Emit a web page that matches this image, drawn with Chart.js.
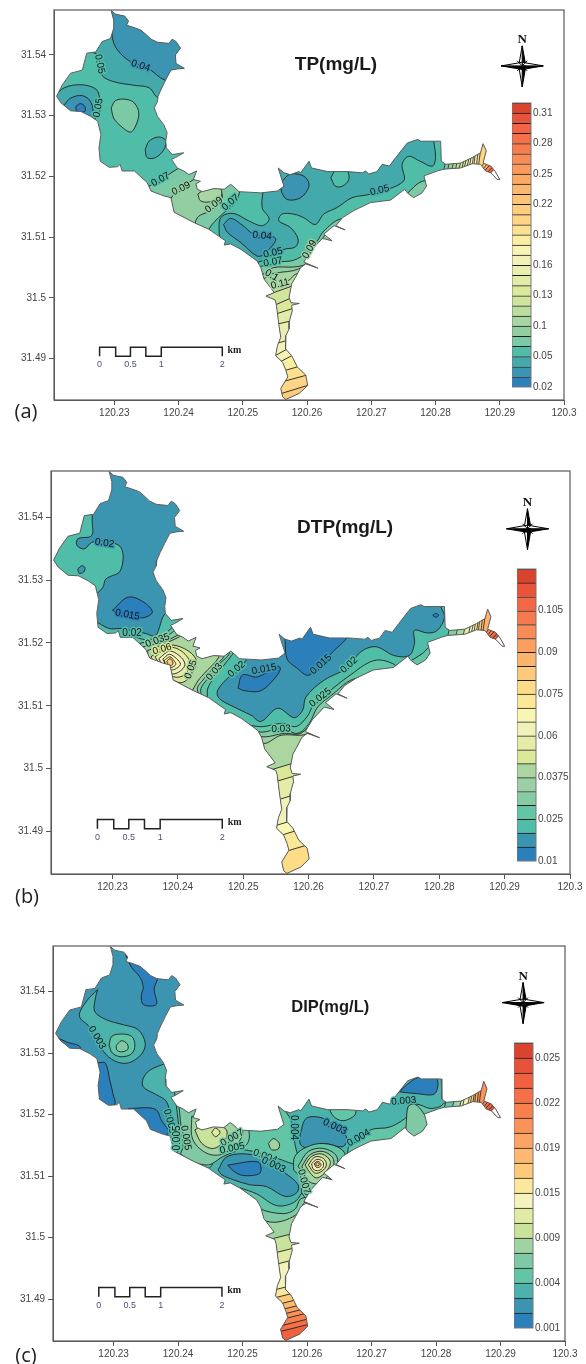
<!DOCTYPE html>
<html>
<head>
<meta charset="utf-8">
<title>TP, DTP and DIP contour maps</title>
<script src="https://cdn.jsdelivr.net/npm/chart.js@4"></script>
<style>
    html, body { margin: 0; padding: 0; background: #fff; width: 586px; height: 1364px; overflow: hidden; }
    canvas { position: absolute; left: 0; top: 0; }
    .letter { position: absolute; font: 20px "Open Sans", sans-serif; color: #222; transform: translate(-50%, -50%); }
</style>
</head>
<body>
<script>
// Axis ticks
const lonTicks = [120.23, 120.24, 120.25, 120.26, 120.27, 120.28, 120.29, 120.3];
const lonLabels = ['120.23', '120.24', '120.25', '120.26', '120.27', '120.28', '120.29', '120.3'];
const latTicks = [31.49, 31.5, 31.51, 31.52, 31.53, 31.54];
const latLabels = ['31.49', '31.5', '31.51', '31.52', '31.53', '31.54'];

// Lake shore, lon/lat
const lakeOutline = [
    [120.2295,31.5473],[120.2302,31.5467],[120.2316,31.5464],[120.2322,31.5456],[120.2319,31.5449],[120.2328,31.5446],
    [120.2341,31.5441],[120.2350,31.5433],[120.2357,31.5426],[120.2367,31.5421],[120.2385,31.5419],[120.2390,31.5426],
    [120.2396,31.5422],[120.2403,31.5411],[120.2395,31.5400],[120.2396,31.5386],[120.2409,31.5378],[120.2398,31.5377],
    [120.2388,31.5375],[120.2380,31.5359],[120.2373,31.5344],[120.2368,31.5332],[120.2367,31.5323],[120.2362,31.5313],
    [120.2367,31.5299],[120.2377,31.5285],[120.2382,31.5272],[120.2380,31.5258],[120.2381,31.5247],[120.2390,31.5236],
    [120.2408,31.5239],[120.2395,31.5231],[120.2389,31.5228],[120.2398,31.5214],[120.2408,31.5209],[120.2416,31.5203],
    [120.2428,31.5209],[120.2423,31.5195],[120.2434,31.5192],[120.2427,31.5188],[120.2429,31.5179],[120.2437,31.5175],
    [120.2455,31.5180],[120.2471,31.5179],[120.2481,31.5187],[120.2486,31.5183],[120.2494,31.5175],[120.2528,31.5173],
    [120.2554,31.5176],[120.2564,31.5184],[120.2555,31.5214],[120.2564,31.5206],[120.2574,31.5203],[120.2587,31.5208],
    [120.2590,31.5206],[120.2603,31.5225],[120.2607,31.5214],[120.2632,31.5208],[120.2663,31.5208],[120.2686,31.5206],
    [120.2691,31.5209],[120.2696,31.5204],[120.2709,31.5208],[120.2717,31.5220],[120.2728,31.5217],[120.2738,31.5231],
    [120.2756,31.5255],[120.2772,31.5261],[120.2777,31.5258],[120.2808,31.5258],[120.2809,31.5225],[120.2816,31.5220],
    [120.2839,31.5222],[120.2857,31.5231],[120.2870,31.5239],[120.2874,31.5254],[120.2879,31.5242],[120.2874,31.5222],
    [120.2886,31.5217],[120.2893,31.5208],[120.2900,31.5195],[120.2896,31.5195],[120.2886,31.5206],[120.2878,31.5209],
    [120.2870,31.5220],[120.2857,31.5221],[120.2839,31.5214],[120.2813,31.5212],[120.2803,31.5209],[120.2782,31.5201],
    [120.2786,31.5184],[120.2779,31.5173],[120.2766,31.5165],[120.2756,31.5173],[120.2752,31.5179],[120.2730,31.5161],
    [120.2699,31.5157],[120.2673,31.5144],[120.2655,31.5132],[120.2645,31.5119],[120.2659,31.5112],[120.2642,31.5119],
    [120.2626,31.5105],[120.2639,31.5094],[120.2624,31.5098],[120.2606,31.5078],[120.2595,31.5059],[120.2617,31.5049],
    [120.2598,31.5056],[120.2590,31.5050],[120.2582,31.5034],[120.2576,31.5023],[120.2572,31.5001],[120.2575,31.4992],
    [120.2588,31.4991],[120.2576,31.4988],[120.2577,31.4979],[120.2572,31.4960],[120.2572,31.4949],[120.2567,31.4938],
    [120.2566,31.4925],[120.2567,31.4916],[120.2576,31.4905],[120.2585,31.4886],[120.2598,31.4873],[120.2601,31.4856],
    [120.2588,31.4843],[120.2567,31.4833],[120.2562,31.4837],[120.2559,31.4851],[120.2570,31.4870],[120.2567,31.4881],
    [120.2562,31.4894],[120.2551,31.4905],[120.2554,31.4922],[120.2559,31.4935],[120.2556,31.4957],[120.2552,31.4990],
    [120.2550,31.4997],[120.2536,31.5003],[120.2549,31.5009],[120.2533,31.5031],[120.2528,31.5050],
    [120.2522,31.5061],[120.2497,31.5080],[120.2481,31.5089],[120.2471,31.5087],[120.2473,31.5094],[120.2447,31.5113],
    [120.2424,31.5124],[120.2393,31.5141],[120.2388,31.5165],[120.2377,31.5168],[120.2357,31.5176],[120.2351,31.5190],
    [120.2331,31.5209],[120.2312,31.5209],[120.2309,31.5220],[120.2305,31.5216],[120.2292,31.5215],[120.2278,31.5225],
    [120.2276,31.5247],[120.2279,31.5269],[120.2274,31.5291],[120.2263,31.5299],[120.2248,31.5307],[120.2232,31.5308],
    [120.2217,31.5321],[120.2210,31.5332],[120.2219,31.5351],[120.2232,31.5370],[120.2250,31.5375],[120.2257,31.5403],
    [120.2271,31.5405],[120.2281,31.5422],[120.2294,31.5427],[120.2299,31.5444],[120.2299,31.5457]
];

// Stripes across the narrow eastern tail: lon, lat of the upper and lower end
const tailCuts = [
    [120.2817,31.5231,120.2812,31.5206],[120.2823,31.5231,120.2818,31.5206],[120.2830,31.5231,120.2824,31.5206],
    [120.2835,31.5231,120.2830,31.5206],[120.2841,31.5231,120.2835,31.5206],[120.2845,31.5233,120.2840,31.5206],
    [120.2849,31.5236,120.2844,31.5209],[120.2854,31.5239,120.2848,31.5211],[120.2857,31.5242,120.2852,31.5211],
    [120.2861,31.5247,120.2856,31.5211],[120.2864,31.5258,120.2859,31.5211],[120.2868,31.5258,120.2863,31.5211],
    [120.2872,31.5258,120.2866,31.5211],[120.2883,31.5233,120.2870,31.5214],[120.2887,31.5230,120.2873,31.5211],
    [120.2890,31.5225,120.2876,31.5209],[120.2893,31.5220,120.2880,31.5206],[120.2896,31.5217,120.2884,31.5204]
];

// Scale bar
const scaleBarLine = [
    [120.2277,31.4904],[120.2277,31.4919],[120.2302,31.4919],[120.2302,31.4904],[120.2325,31.4904],[120.2325,31.4919],
    [120.2349,31.4919],[120.2349,31.4904],[120.2373,31.4904],[120.2373,31.4919],[120.2468,31.4919],[120.2468,31.4904]
];
const scaleBarLons = [120.2277, 120.2325, 120.2373, 120.2468];
const scaleBarText = ['0', '0.5', '1', '2'];

// --- (a) TP ---
const tpColors = ['#2c80bb','#3b94b2','#43a9ab','#50bda8','#7cc9a5','#93cea3','#a7d6a3','#bcdda0','#cfe59c','#dce99a','#e2eca6','#e9efb0','#f2f2b8','#f7f4b5','#fbeea0','#fde192','#fed586','#fdcc7c','#fdc476','#fcb76f','#fba965','#fa9a5d','#f98c57','#f77d50','#f56f49','#f26243','#e5533a','#da452f'];
const tpBarTicks = ['0.02','0.05','0.1','0.13','0.16','0.19','0.22','0.25','0.28','0.31'];
const tpZones = [
    [2,[[120.2263,31.5405],[120.2274,31.5400],[120.2278,31.5384],[120.2281,31.5366],[120.2299,31.5356],[120.2331,31.5350],[120.2354,31.5346],[120.2369,31.5329],[120.2414,31.5329],[120.2414,31.5487],[120.2263,31.5487]]],
    [1,[[120.2297,31.5444],[120.2297,31.5427],[120.2305,31.5408],[120.2325,31.5389],[120.2351,31.5379],[120.2380,31.5358],[120.2414,31.5358],[120.2414,31.5487],[120.2297,31.5487]]],
    [2,[[120.2207,31.5332],[120.2222,31.5346],[120.2248,31.5351],[120.2271,31.5344],[120.2277,31.5329],[120.2276,31.5313],[120.2271,31.5299],[120.2263,31.5269],[120.2207,31.5269]]],
    [1,[[120.2222,31.5318],[120.2232,31.5329],[120.2250,31.5333],[120.2263,31.5323],[120.2267,31.5299],[120.2258,31.5280],[120.2217,31.5291]]],
    [0,[[120.2240,31.5315],[120.2247,31.5320],[120.2254,31.5315],[120.2254,31.5307],[120.2242,31.5306]]],
    [4,[[120.2295,31.5313],[120.2302,31.5325],[120.2318,31.5327],[120.2331,31.5321],[120.2338,31.5304],[120.2333,31.5283],[120.2325,31.5273],[120.2310,31.5283],[120.2299,31.5296]]],
    [2,[[120.2348,31.5244],[120.2354,31.5258],[120.2369,31.5265],[120.2380,31.5259],[120.2377,31.5244],[120.2364,31.5231],[120.2351,31.5231]]],
    [4,[[120.2346,31.5179],[120.2377,31.5198],[120.2403,31.5215],[120.2445,31.5231],[120.2502,31.5231],[120.2495,31.5175],[120.2486,31.5154],[120.2468,31.5138],[120.2447,31.5113],[120.2434,31.5072],[120.2346,31.5105]]],
    [5,[[120.2385,31.5160],[120.2398,31.5176],[120.2429,31.5198],[120.2465,31.5214],[120.2465,31.5179],[120.2468,31.5165],[120.2455,31.5146],[120.2429,31.5132],[120.2419,31.5094],[120.2385,31.5105]]],
    [6,[[120.2430,31.5171],[120.2437,31.5176],[120.2455,31.5181],[120.2466,31.5179],[120.2465,31.5165],[120.2447,31.5158],[120.2434,31.5160]]],
    [2,[[120.2533,31.5187],[120.2530,31.5149],[120.2541,31.5130],[120.2530,31.5119],[120.2509,31.5127],[120.2486,31.5139],[120.2468,31.5135],[120.2463,31.5121],[120.2468,31.5089],[120.2502,31.5056],[120.2530,31.5061],[120.2538,31.5067],[120.2564,31.5080],[120.2582,31.5084],[120.2586,31.5097],[120.2574,31.5116],[120.2556,31.5127],[120.2561,31.5138],[120.2579,31.5138],[120.2595,31.5132],[120.2613,31.5121],[120.2626,31.5138],[120.2647,31.5149],[120.2670,31.5165],[120.2699,31.5171],[120.2750,31.5192],[120.2748,31.5220],[120.2758,31.5233],[120.2776,31.5225],[120.2795,31.5217],[120.2800,31.5231],[120.2797,31.5261],[120.2797,31.5280],[120.2533,31.5280]]],
    [1,[[120.2470,31.5121],[120.2481,31.5131],[120.2499,31.5120],[120.2517,31.5105],[120.2551,31.5098],[120.2533,31.5072],[120.2522,31.5069],[120.2497,31.5091],[120.2476,31.5108]]],
    [1,[[120.2561,31.5192],[120.2572,31.5203],[120.2585,31.5204],[120.2598,31.5198],[120.2603,31.5184],[120.2590,31.5165],[120.2569,31.5162],[120.2560,31.5176]]],
    [3,[[120.2637,31.5198],[120.2644,31.5209],[120.2662,31.5209],[120.2665,31.5195],[120.2655,31.5184],[120.2644,31.5184]]],
    [4,[[120.2522,31.5050],[120.2554,31.5059],[120.2579,31.5062],[120.2600,31.5075],[120.2616,31.5094],[120.2626,31.5110],[120.2652,31.5130],[120.2693,31.5130],[120.2693,31.4941],[120.2522,31.4941]]],
    [5,[[120.2530,31.5038],[120.2548,31.5050],[120.2579,31.5051],[120.2598,31.5056],[120.2605,31.5072],[120.2621,31.5094],[120.2636,31.5110],[120.2662,31.5110],[120.2662,31.4941],[120.2530,31.4941]]],
    [6,[[120.2530,31.5028],[120.2543,31.5039],[120.2579,31.5045],[120.2592,31.5050],[120.2611,31.5056],[120.2611,31.4941],[120.2530,31.4941]]],
    [7,[[120.2530,31.5010],[120.2548,31.5014],[120.2574,31.5031],[120.2582,31.5039],[120.2611,31.5042],[120.2611,31.4941],[120.2530,31.4941]]],
    [4,[[120.2756,31.5172],[120.2777,31.5191],[120.2797,31.5190],[120.2797,31.5149],[120.2756,31.5149]]]
];
const tpSouth = [[8,31.5002,31.5032],[9,31.4979,31.5016],[10,31.4966,31.4994],[11,31.4951,31.4971],[12,31.4918,31.4943],[13,31.4893,31.4940],[14,31.4879,31.4924],[15,31.4870,31.4894],[16,31.4853,31.4876],[17,31.4833,31.4859]];
const tpTail = [4,5,6,7,8,9,10,11,12,13,14,15,16,18,20,23,25,-1];
const tpLabels = [
    [120.2341,31.5382,'0.04',18,1],[120.2277,31.5385,'0.05',78,3],[120.2275,31.5313,'0.05',-80,3],[120.2372,31.5195,'0.07',-28,3],
    [120.2404,31.5180,'0.09',-25,5],[120.2455,31.5153,'0.09',-38,5],[120.2481,31.5157,'0.07',-40,3],[120.2530,31.5102,'0.04',5,1],
    [120.2547,31.5074,'0.05',-12,2],[120.2547,31.5059,'0.07',-10,3],[120.2545,31.5037,'0.1',30,5],[120.2558,31.5023,'0.11',-15,6],
    [120.2713,31.5177,'0.05',-15,2],[120.2604,31.5080,'0.09',-60,5]
];

// --- (b) DTP ---
const dtpColors = ['#2b7fbb','#3b95b0','#50bda8','#62c5a6','#85cba4','#9ad0a3','#abd6a0','#dae898','#e4eca8','#f0f2b9','#f9f5b3','#fbe997','#fddc88','#fdc97a','#fcb36c','#fb9f5f','#f98b56','#f67a4f','#f36744','#e9533a','#d9442f'];
const dtpBarTicks = ['0.01','0.025','0.0375','0.06','0.075','0.09','0.105'];
const dtpZones = [
    [2,[[120.2269,31.5411],[120.2269,31.5396],[120.2268,31.5371],[120.2247,31.5366],[120.2246,31.5355],[120.2257,31.5350],[120.2268,31.5360],[120.2282,31.5363],[120.2313,31.5352],[120.2312,31.5315],[120.2290,31.5302],[120.2285,31.5288],[120.2272,31.5278],[120.2206,31.5278],[120.2206,31.5411]]],
    [1,[[120.2247,31.5318],[120.2253,31.5323],[120.2258,31.5320],[120.2256,31.5313],[120.2249,31.5311]]],
    [0,[[120.2300,31.5252],[120.2324,31.5273],[120.2348,31.5265],[120.2361,31.5249],[120.2346,31.5240],[120.2331,31.5245],[120.2308,31.5248]]],
    [2,[[120.2272,31.5236],[120.2295,31.5223],[120.2313,31.5223],[120.2351,31.5215],[120.2366,31.5212],[120.2382,31.5248],[120.2415,31.5248],[120.2456,31.5204],[120.2504,31.5180],[120.2504,31.5172],[120.2481,31.5149],[120.2461,31.5125],[120.2463,31.5112],[120.2486,31.5098],[120.2512,31.5085],[120.2527,31.5075],[120.2553,31.5096],[120.2578,31.5081],[120.2591,31.5093],[120.2596,31.5114],[120.2624,31.5141],[120.2657,31.5159],[120.2680,31.5186],[120.2703,31.5194],[120.2731,31.5180],[120.2754,31.5180],[120.2762,31.5199],[120.2762,31.5220],[120.2782,31.5216],[120.2797,31.5220],[120.2808,31.5241],[120.2803,31.5262],[120.2843,31.5262],[120.2843,31.4833],[120.2272,31.4833]]],
    [3,[[120.2328,31.5212],[120.2354,31.5205],[120.2379,31.5214],[120.2399,31.5230],[120.2435,31.5236],[120.2486,31.5194],[120.2471,31.5165],[120.2456,31.5146],[120.2445,31.5122],[120.2456,31.5088],[120.2522,31.5067],[120.2560,31.5072],[120.2581,31.5067],[120.2598,31.5083],[120.2609,31.5104],[120.2634,31.5125],[120.2660,31.5146],[120.2700,31.5172],[120.2729,31.5167],[120.2741,31.5151],[120.2741,31.4833],[120.2328,31.4833]]],
    [4,[[120.2343,31.5200],[120.2369,31.5204],[120.2389,31.5215],[120.2407,31.5228],[120.2456,31.5215],[120.2479,31.5186],[120.2463,31.5166],[120.2448,31.5146],[120.2435,31.5125],[120.2445,31.5104],[120.2522,31.5059],[120.2560,31.5064],[120.2583,31.5056],[120.2601,31.5072],[120.2614,31.5098],[120.2639,31.5120],[120.2665,31.5141],[120.2685,31.5141],[120.2685,31.4833],[120.2343,31.4833]]],
    [5,[[120.2346,31.5194],[120.2374,31.5200],[120.2399,31.5212],[120.2415,31.5223],[120.2445,31.5210],[120.2471,31.5183],[120.2456,31.5162],[120.2440,31.5143],[120.2430,31.5125],[120.2456,31.5077],[120.2527,31.5051],[120.2563,31.5056],[120.2588,31.5056],[120.2619,31.5083],[120.2619,31.4833],[120.2346,31.4833]]],
    [6,[[120.2354,31.5188],[120.2374,31.5196],[120.2397,31.5207],[120.2420,31.5217],[120.2461,31.5194],[120.2463,31.5178],[120.2440,31.5151],[120.2428,31.5135],[120.2420,31.5109],[120.2461,31.5067],[120.2530,31.5040],[120.2558,31.5053],[120.2588,31.5053],[120.2619,31.5056],[120.2619,31.4833],[120.2354,31.4833]]],
    [7,[[120.2359,31.5178],[120.2384,31.5196],[120.2410,31.5191],[120.2428,31.5173],[120.2422,31.5151],[120.2407,31.5137],[120.2392,31.5141],[120.2374,31.5151]]],
    [8,[[120.2365,31.5178],[120.2387,31.5193],[120.2407,31.5186],[120.2419,31.5167],[120.2410,31.5149],[120.2394,31.5146],[120.2379,31.5157]]],
    [9,[[120.2371,31.5175],[120.2387,31.5187],[120.2402,31.5180],[120.2411,31.5166],[120.2402,31.5154],[120.2389,31.5151],[120.2378,31.5162]]],
    [10,[[120.2377,31.5174],[120.2387,31.5182],[120.2398,31.5175],[120.2404,31.5166],[120.2395,31.5158],[120.2387,31.5158]]],
    [11,[[120.2379,31.5172],[120.2388,31.5178],[120.2394,31.5172],[120.2397,31.5166],[120.2390,31.5161],[120.2383,31.5165]]],
    [13,[[120.2383,31.5171],[120.2388,31.5175],[120.2392,31.5171],[120.2392,31.5166],[120.2387,31.5164]]],
    [0,[[120.2560,31.5225],[120.2564,31.5204],[120.2567,31.5175],[120.2581,31.5161],[120.2601,31.5149],[120.2639,31.5188],[120.2660,31.5211],[120.2660,31.5236],[120.2560,31.5236]]],
    [0,[[120.2492,31.5128],[120.2499,31.5149],[120.2522,31.5146],[120.2553,31.5163],[120.2557,31.5159],[120.2550,31.5146],[120.2527,31.5124],[120.2502,31.5124]]],
    [3,[[120.2754,31.5170],[120.2774,31.5183],[120.2787,31.5194],[120.2792,31.5162],[120.2754,31.5162]]],
    [0,[[120.2790,31.5244],[120.2795,31.5247],[120.2799,31.5244],[120.2795,31.5241]]]
];
const dtpSouth = [[7,31.4994,31.5019],[8,31.4973,31.4998],[9,31.4943,31.4968],[10,31.4903,31.4928],[11,31.4885,31.4910],[12,31.4857,31.4882]];
const dtpTail = [4,null,6,null,8,null,9,10,11,12,13,14,14,16,17,18,19,-1];
const dtpLabels = [
    [120.2288,31.5359,'0.02',8,1],[120.2323,31.5245,'0.015',10,0],[120.2330,31.5216,'0.02',0,2],[120.2369,31.5204,'0.035',-20,4],
    [120.2376,31.5190,'0.06',-15,7],[120.2420,31.5158,'0.05',-70,6],[120.2456,31.5154,'0.03',-50,4],[120.2490,31.5158,'0.02',-40,2],
    [120.2532,31.5158,'0.015',-10,1],[120.2558,31.5063,'0.03',-2,3],[120.2619,31.5166,'0.015',-42,1],[120.2662,31.5165,'0.02',-42,2],
    [120.2618,31.5113,'0.025',-38,3]
];

// --- (c) DIP ---
const dipColors = ['#2b7fbb','#3b95b0','#4bb3ab','#62c5a6','#7fc9a5','#9fd3a2','#c9e29c','#e1eba6','#f3f3bb','#fbe89a','#fdc97a','#fdb971','#fba464','#fa9259','#f8804f','#f56f49','#f0613f','#e6533a','#d9442f'];
const dipBarTicks = ['0.001','0.004','0.009','0.015','0.019','0.022','0.025'];
const dipZones = [
    [0,[[120.2318,31.5461],[120.2351,31.5456],[120.2369,31.5429],[120.2363,31.5404],[120.2366,31.5379],[120.2346,31.5379],[120.2343,31.5394],[120.2346,31.5407],[120.2341,31.5423],[120.2328,31.5439]]],
    [2,[[120.2275,31.5403],[120.2257,31.5383],[120.2247,31.5360],[120.2263,31.5342],[120.2284,31.5303],[120.2302,31.5287],[120.2323,31.5284],[120.2343,31.5298],[120.2349,31.5316],[120.2338,31.5338],[120.2315,31.5346],[120.2289,31.5354],[120.2271,31.5367],[120.2271,31.5385]]],
    [3,[[120.2293,31.5313],[120.2297,31.5327],[120.2312,31.5331],[120.2328,31.5327],[120.2333,31.5313],[120.2328,31.5299],[120.2312,31.5294],[120.2298,31.5300]]],
    [4,[[120.2304,31.5312],[120.2312,31.5320],[120.2321,31.5315],[120.2322,31.5306],[120.2312,31.5302],[120.2305,31.5305]]],
    [0,[[120.2206,31.5329],[120.2227,31.5318],[120.2248,31.5310],[120.2240,31.5294],[120.2206,31.5305]]],
    [0,[[120.2276,31.5284],[120.2287,31.5284],[120.2294,31.5256],[120.2299,31.5234],[120.2301,31.5216],[120.2268,31.5213],[120.2263,31.5283]]],
    [0,[[120.2323,31.5210],[120.2364,31.5209],[120.2374,31.5191],[120.2385,31.5170],[120.2351,31.5164]]],
    [2,[[120.2380,31.5283],[120.2356,31.5272],[120.2346,31.5259],[120.2346,31.5245],[120.2367,31.5232],[120.2382,31.5221],[120.2390,31.5191],[120.2395,31.5170],[120.2387,31.5143],[120.2387,31.4833],[120.2848,31.4833],[120.2848,31.5294],[120.2380,31.5294]]],
    [3,[[120.2394,31.5240],[120.2400,31.5191],[120.2403,31.5148],[120.2398,31.5132],[120.2447,31.5113],[120.2460,31.5132],[120.2486,31.5143],[120.2517,31.5140],[120.2553,31.5129],[120.2585,31.5121],[120.2581,31.5153],[120.2575,31.5191],[120.2561,31.5216],[120.2561,31.5251],[120.2394,31.5251]]],
    [4,[[120.2400,31.5229],[120.2405,31.5175],[120.2408,31.5148],[120.2405,31.5135],[120.2444,31.5118],[120.2470,31.5132],[120.2506,31.5151],[120.2509,31.5175],[120.2486,31.5197],[120.2444,31.5229]]],
    [5,[[120.2421,31.5197],[120.2423,31.5159],[120.2447,31.5136],[120.2475,31.5138],[120.2499,31.5164],[120.2496,31.5183],[120.2465,31.5197]]],
    [6,[[120.2426,31.5175],[120.2438,31.5182],[120.2460,31.5183],[120.2475,31.5175],[120.2473,31.5159],[120.2455,31.5145],[120.2437,31.5153]]],
    [7,[[120.2452,31.5171],[120.2458,31.5178],[120.2465,31.5171],[120.2458,31.5164]]],
    [5,[[120.2540,31.5153],[120.2548,31.5161],[120.2557,31.5153],[120.2555,31.5144],[120.2545,31.5143]]],
    [1,[[120.2462,31.5110],[120.2475,31.5131],[120.2506,31.5136],[120.2537,31.5127],[120.2566,31.5105],[120.2586,31.5086],[120.2584,31.5073],[120.2566,31.5067],[120.2537,31.5083],[120.2511,31.5086],[120.2486,31.5094],[120.2468,31.5102]]],
    [0,[[120.2477,31.5118],[120.2524,31.5123],[120.2527,31.5105],[120.2501,31.5101],[120.2486,31.5108]]],
    [3,[[120.2496,31.5081],[120.2522,31.5071],[120.2553,31.5052],[120.2579,31.5057],[120.2592,31.5073],[120.2593,31.5083],[120.2641,31.5078],[120.2641,31.4833],[120.2496,31.4833]]],
    [4,[[120.2522,31.5059],[120.2527,31.5047],[120.2563,31.5039],[120.2581,31.5046],[120.2592,31.5064],[120.2641,31.5064],[120.2641,31.4833],[120.2522,31.4833]]],
    [5,[[120.2527,31.5029],[120.2548,31.5025],[120.2568,31.5029],[120.2586,31.5040],[120.2599,31.5059],[120.2641,31.5059],[120.2641,31.4833],[120.2527,31.4833]]],
    [1,[[120.2589,31.5167],[120.2599,31.5194],[120.2625,31.5194],[120.2643,31.5180],[120.2661,31.5164],[120.2656,31.5148],[120.2625,31.5153],[120.2605,31.5145],[120.2590,31.5151]]],
    [3,[[120.2579,31.5110],[120.2581,31.5132],[120.2599,31.5147],[120.2625,31.5153],[120.2654,31.5143],[120.2661,31.5121],[120.2641,31.5089],[120.2605,31.5062],[120.2592,31.5073],[120.2593,31.5094]]],
    [4,[[120.2586,31.5116],[120.2602,31.5140],[120.2625,31.5145],[120.2646,31.5132],[120.2643,31.5108],[120.2620,31.5083],[120.2598,31.5070],[120.2598,31.5097]]],
    [5,[[120.2592,31.5116],[120.2605,31.5135],[120.2625,31.5140],[120.2641,31.5127],[120.2636,31.5105],[120.2615,31.5088],[120.2600,31.5094]]],
    [6,[[120.2597,31.5118],[120.2607,31.5132],[120.2623,31.5136],[120.2636,31.5124],[120.2630,31.5108],[120.2615,31.5097],[120.2605,31.5105]]],
    [7,[[120.2602,31.5118],[120.2612,31.5131],[120.2625,31.5129],[120.2630,31.5118],[120.2623,31.5108],[120.2612,31.5105]]],
    [8,[[120.2607,31.5120],[120.2615,31.5127],[120.2624,31.5124],[120.2625,31.5115],[120.2618,31.5109],[120.2610,31.5111]]],
    [9,[[120.2611,31.5120],[120.2616,31.5124],[120.2621,31.5121],[120.2621,31.5116],[120.2615,31.5114]]],
    [10,[[120.2613,31.5120],[120.2616,31.5122],[120.2619,31.5120],[120.2618,31.5117],[120.2615,31.5117]]],
    [3,[[120.2633,31.5213],[120.2643,31.5221],[120.2674,31.5210],[120.2674,31.5199],[120.2656,31.5190],[120.2641,31.5197]]],
    [3,[[120.2664,31.5147],[120.2698,31.5175],[120.2729,31.5180],[120.2757,31.5199],[120.2757,31.5213],[120.2770,31.5217],[120.2791,31.5210],[120.2806,31.5213],[120.2814,31.5218],[120.2827,31.5140],[120.2664,31.5121]]],
    [4,[[120.2754,31.5191],[120.2757,31.5213],[120.2767,31.5217],[120.2780,31.5203],[120.2787,31.5186],[120.2775,31.5164],[120.2755,31.5164]]],
    [0,[[120.2743,31.5237],[120.2760,31.5253],[120.2775,31.5261],[120.2801,31.5259],[120.2798,31.5234],[120.2770,31.5234]]]
];
const dipSouth = [[6,31.4994,31.5015],[7,31.4970,31.4991],[8,31.4951,31.4972],[9,31.4910,31.4931],[10,31.4897,31.4918],[11,31.4885,31.4906],[12,31.4875,31.4896],[13,31.4867,31.4888],[14,31.4859,31.4880],[15,31.4849,31.4870],[16,31.4840,31.4861]];
const dipTail = [3,null,5,null,7,8,null,9,10,11,12,13,13,14,15,16,17,-1];
const dipLabels = [
    [120.2274,31.5325,'0.003',60,2],[120.2387,31.5189,'0.003',75,2],[120.2399,31.5162,'0.005',-90,3],[120.2412,31.5162,'0.005',80,4],
    [120.2484,31.5162,'0.007',-30,4],[120.2484,31.5145,'0.005',-12,3],[120.2535,31.5132,'0.004',20,3],[120.2548,31.5118,'0.003',25,2],
    [120.2579,31.5179,'0.004',90,2],[120.2643,31.5180,'0.003',25,1],[120.2680,31.5162,'0.004',-30,2],[120.2750,31.5222,'0.003',-5,2],
    [120.2595,31.5091,'0.007',75,4]
];

// Frame of each map and of its colour bar on the page
const panels = [
    { title: 'TP(mg/L)', titleLon: 120.2645, titleLat: 31.5384, titleSize: 19, letter: '(a)', letterX: 26, letterY: 410,
      left: 54, top: 9, right: 564, bottom: 400, base: 3, colors: tpColors, zones: tpZones, south: tpSouth, tail: tpTail, labels: tpLabels,
      barLeft: 512, barTop: 103, barBottom: 387, barTicks: tpBarTicks },
    { title: 'DTP(mg/L)', titleLon: 120.2656, titleLat: 31.5384, titleSize: 19, letter: '(b)', letterX: 27, letterY: 895,
      left: 51, top: 470, right: 570, bottom: 874, base: 1, colors: dtpColors, zones: dtpZones, south: dtpSouth, tail: dtpTail, labels: dtpLabels,
      barLeft: 517, barTop: 569, barBottom: 861, barTicks: dtpBarTicks },
    { title: 'DIP(mg/L)', titleLon: 120.2636, titleLat: 31.5374, titleSize: 16.5, letter: '(c)', letterX: 26, letterY: 1354,
      left: 53, top: 945, right: 565, bottom: 1341, base: 1, colors: dipColors, zones: dipZones, south: dipSouth, tail: dipTail, labels: dipLabels,
      barLeft: 514, barTop: 1043, barBottom: 1328, barTicks: dipBarTicks }
];

const LINE = '#222';
const TICK_FONT = { family: 'Liberation Sans', size: 10 };

function toPoints(list) {
    return list.map(p => ({ x: p[0], y: p[1] }));
}

function polygon(list, color, tension, stroke) {
    const closed = list.concat([list[0]]);
    return { data: toPoints(closed), showLine: true, fill: 'shape', backgroundColor: color, borderColor: LINE,
             borderWidth: stroke ? 0.9 : 0, pointRadius: 0, tension: tension };
}

function line(list, width, color, unclipped) {
    return { data: toPoints(list), showLine: true, fill: false, borderColor: color, borderWidth: width, pointRadius: 0, tension: 0, unclipped: !!unclipped };
}

function buildDatasets(panel) {
    const sets = [polygon(lakeOutline, panel.colors[panel.base], 0, false)];
    panel.zones.forEach(z => sets.push(polygon(z[1], panel.colors[z[0]], 0.35, true)));

    // bands across the southern channel
    panel.south.forEach(s => {
        const a = [120.2530, s[1]], b = [120.2610, s[2]];
        sets.push(polygon([a, b, [120.2610, 31.48], [120.2530, 31.48]], panel.colors[s[0]], 0, false));
        sets.push(line([a, b], 0.9, LINE));
    });

    // stripes in the eastern tail
    tailCuts.forEach((c, i) => {
        const band = panel.tail[i];
        if (band === null) return;
        const a = [c[0], c[1]], b = [c[2], c[3]];
        const color = band < 0 ? '#ffffff' : panel.colors[band];
        sets.push(polygon([a, b, [120.30, 31.51], [120.30, c[1]]], color, 0, false));
        sets.push(line([a, b], 0.8, LINE));
    });

    sets.push(line(lakeOutline.concat([lakeOutline[0]]), 1, '#5c5c5c', true));
    sets.push(line(scaleBarLine, 1.5, '#222', true));
    // chart.js paints the last dataset first
    return sets.reverse();
}

// Keeps the contour fills inside the shore
const lakeClip = {
    id: 'lakeClip',
    beforeDatasetsDraw(chart) {
        const ctx = chart.ctx, sx = chart.scales.x, sy = chart.scales.y;
        ctx.save();
        ctx.beginPath();
        lakeOutline.forEach((p, i) => {
            const px = sx.getPixelForValue(p[0]), py = sy.getPixelForValue(p[1]);
            if (i === 0) ctx.moveTo(px, py); else ctx.lineTo(px, py);
        });
        ctx.closePath();
        ctx.clip();
        chart.$clipped = true;
    },
    beforeDatasetDraw(chart, args) {
        if (chart.$clipped && chart.data.datasets[args.index].unclipped) {
            chart.ctx.restore();
            chart.$clipped = false;
        }
    }
};

function drawCompass(ctx, cx, cy) {
    const tips = [[0, -20], [21, 0], [0, 21], [-21, 0]];
    ctx.save();
    ctx.translate(cx, cy);
    ctx.lineWidth = 1;
    ctx.strokeStyle = '#000';
    tips.forEach(t => {
        const wx = t[1] === 0 ? 0 : 3.6, wy = t[0] === 0 ? 0 : 3.6;
        ctx.beginPath(); ctx.moveTo(0, 0); ctx.lineTo(t[0], t[1]); ctx.lineTo(wx, wy); ctx.closePath();
        ctx.fillStyle = '#000'; ctx.fill(); ctx.stroke();
        ctx.beginPath(); ctx.moveTo(0, 0); ctx.lineTo(t[0], t[1]); ctx.lineTo(-wx, -wy); ctx.closePath();
        ctx.fillStyle = '#fff'; ctx.fill(); ctx.stroke();
    });
    [[5, -5], [5, 5], [-5, 5], [-5, -5]].forEach(d => {
        ctx.beginPath(); ctx.moveTo(0, 0); ctx.lineTo(d[0], d[1]); ctx.stroke();
    });
    ctx.restore();
}

const mapDecor = {
    id: 'mapDecor',
    afterDatasetsDraw(chart, args, opts) {
        const ctx = chart.ctx, sx = chart.scales.x, sy = chart.scales.y, area = chart.chartArea, panel = opts.panel;
        if (chart.$clipped) { ctx.restore(); chart.$clipped = false; }

        ctx.save();
        ctx.strokeStyle = '#5a5a5a';
        ctx.lineWidth = 1.2;
        ctx.strokeRect(area.left, area.top, area.right - area.left, area.bottom - area.top);

        ctx.textAlign = 'center';
        ctx.textBaseline = 'middle';

        // contour labels
        panel.labels.forEach(l => {
            ctx.save();
            ctx.translate(sx.getPixelForValue(l[0]), sy.getPixelForValue(l[1]));
            ctx.rotate(l[3] * Math.PI / 180);
            ctx.font = '10px "Liberation Sans"';
            ctx.lineWidth = 3;
            ctx.lineJoin = 'round';
            ctx.strokeStyle = panel.colors[l[4]];
            ctx.strokeText(l[2], 0, 0);
            ctx.fillStyle = '#111';
            ctx.fillText(l[2], 0, 0);
            ctx.restore();
        });

        // title
        ctx.font = 'bold ' + panel.titleSize + 'px "Liberation Sans"';
        ctx.fillStyle = '#1a1a1a';
        ctx.fillText(panel.title, sx.getPixelForValue(panel.titleLon), sy.getPixelForValue(panel.titleLat));

        // scale bar text
        ctx.font = '9px "Liberation Sans"';
        ctx.fillStyle = '#4a5570';
        scaleBarLons.forEach((lon, i) => ctx.fillText(scaleBarText[i], sx.getPixelForValue(lon), sy.getPixelForValue(31.4890)));
        ctx.font = 'bold 10px "Liberation Serif"';
        ctx.fillStyle = '#222';
        ctx.fillText('km', sx.getPixelForValue(120.2487), sy.getPixelForValue(31.4914));

        // north arrow
        const cx = sx.getPixelForValue(120.2935), cy = sy.getPixelForValue(31.5382);
        drawCompass(ctx, cx, cy);
        ctx.font = 'bold 13px "Liberation Serif"';
        ctx.fillStyle = '#111';
        ctx.fillText('N', cx, cy - 26);
        ctx.restore();
    }
};

const barFrame = {
    id: 'barFrame',
    afterDatasetsDraw(chart) {
        const a = chart.chartArea, ctx = chart.ctx;
        ctx.save();
        ctx.strokeStyle = '#777';
        ctx.lineWidth = 1;
        ctx.strokeRect(a.left, a.top, a.right - a.left, a.bottom - a.top);
        ctx.restore();
    }
};

function addCanvas(left, top, width, height) {
    const c = document.createElement('canvas');
    c.width = width;
    c.height = height;
    c.style.left = left + 'px';
    c.style.top = top + 'px';
    c.style.width = width + 'px';
    c.style.height = height + 'px';
    document.body.appendChild(c);
    return c;
}

function initMap(panel) {
    const padTop = 8, axisH = 26;
    const h = panel.bottom - panel.top + padTop + axisH;
    const canvas = addCanvas(0, panel.top - padTop, 586, h);
    new Chart(canvas.getContext('2d'), {
        type: 'scatter',
        data: { datasets: buildDatasets(panel) },
        plugins: [lakeClip, mapDecor],
        options: {
            responsive: false,
            animation: false,
            events: [],
            layout: { padding: { left: 0, top: padTop, right: 586 - panel.right, bottom: 0 } },
            plugins: { legend: { display: false }, tooltip: { enabled: false }, mapDecor: { panel: panel } },
            scales: {
                x: {
                    type: 'linear', min: 120.2206, max: 120.3,
                    afterBuildTicks: s => { s.ticks = lonTicks.map(v => ({ value: v })); },
                    afterFit: s => { s.height = axisH; },
                    grid: { drawOnChartArea: false, color: '#555', tickLength: 5 },
                    border: { color: '#5a5a5a' },
                    ticks: { autoSkip: false, maxRotation: 0, padding: 2, color: '#444', font: TICK_FONT, callback: (v, i) => lonLabels[i] }
                },
                y: {
                    type: 'linear', min: 31.4832, max: 31.5474,
                    afterBuildTicks: s => { s.ticks = latTicks.map(v => ({ value: v })); },
                    afterFit: s => { s.width = panel.left; },
                    grid: { drawOnChartArea: false, color: '#555', tickLength: 5 },
                    border: { color: '#5a5a5a' },
                    ticks: { autoSkip: false, padding: 3, color: '#444', font: TICK_FONT, callback: (v, i) => latLabels[i] }
                }
            }
        }
    });
}

function initBar(panel) {
    const pad = 8, barW = 19, n = panel.colors.length;
    const w = 586 - panel.barLeft;
    const canvas = addCanvas(panel.barLeft, panel.barTop - pad, w, panel.barBottom - panel.barTop + pad * 2);
    new Chart(canvas.getContext('2d'), {
        type: 'bar',
        data: {
            labels: [''],
            datasets: panel.colors.map(c => ({
                data: [1], backgroundColor: c, borderColor: '#1c1c1c',
                borderWidth: { top: 1, right: 0, bottom: 0, left: 0 }, borderSkipped: false,
                categoryPercentage: 1, barPercentage: 1
            }))
        },
        plugins: [barFrame],
        options: {
            responsive: false,
            animation: false,
            events: [],
            layout: { padding: { left: 0, top: pad, right: 0, bottom: pad } },
            plugins: { legend: { display: false }, tooltip: { enabled: false } },
            scales: {
                x: { stacked: true, display: false },
                y: {
                    stacked: true, position: 'right', min: 0, max: n,
                    afterBuildTicks: s => { s.ticks = panel.barTicks.map((t, i) => ({ value: i * 3 })); },
                    afterFit: s => { s.width = w - barW; },
                    grid: { display: false, drawTicks: false, tickLength: 0 },
                    border: { display: false },
                    ticks: { autoSkip: false, padding: 2, color: '#444', font: TICK_FONT, callback: (v, i) => panel.barTicks[i] }
                }
            }
        }
    });
}

panels.forEach(p => {
    initMap(p);
    initBar(p);
    const d = document.createElement('div');
    d.className = 'letter';
    d.textContent = p.letter;
    d.style.left = p.letterX + 'px';
    d.style.top = p.letterY + 'px';
    document.body.appendChild(d);
});
</script>
</body>
</html>
